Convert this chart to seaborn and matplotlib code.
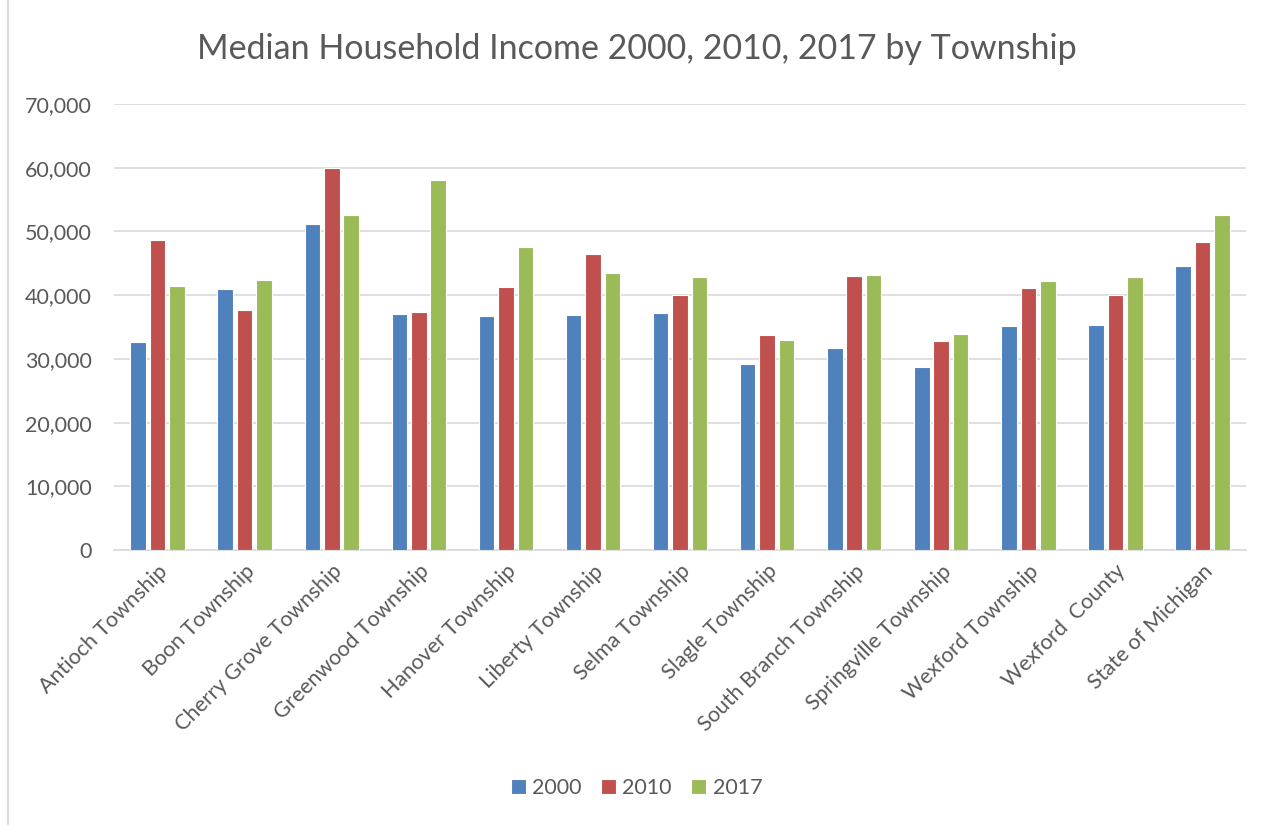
import matplotlib
matplotlib.use("Agg")
import matplotlib.pyplot as plt
import matplotlib.ticker as ticker
import seaborn as sns
import pandas as pd

townships = ["Antioch Township", "Boon Township", "Cherry Grove Township",
             "Greenwood Township", "Hanover Township", "Liberty Township",
             "Selma Township", "Slagle Township", "South Branch Township",
             "Springville Township", "Wexford Township", "Wexford  County",
             "State of Michigan"]
years = ["2000", "2010", "2017"]
income_2000 = [32600, 41000, 51200, 37000, 36800, 36900, 37200,
               29200, 31700, 28700, 35100, 35300, 44600]
income_2010 = [48700, 37700, 60000, 37300, 41300, 46400, 40000,
               33700, 43000, 32800, 41100, 40000, 48400]
income_2017 = [41400, 42400, 52600, 58100, 47500, 43500, 42800,
               32900, 43100, 33900, 42300, 42800, 52600]
colors = ["#4F81BD", "#C0504D", "#9BBB59"]

# long table for seaborn
rows = []
for yr, vals in zip(years, [income_2000, income_2010, income_2017]):
    for t, v in zip(townships, vals):
        rows.append({"township": t, "year": yr, "income": v})
df = pd.DataFrame(rows)

sns.set_style("white")
plt.rcParams["font.family"] = ["Lato", "DejaVu Sans"]
txt = "#595959"

fig = plt.figure(figsize=(12.73, 8.25), dpi=100)
ax = fig.add_axes([0.0896, 0.3333, 0.8892, 0.5406])

sns.barplot(data=df, x="township", y="income", hue="year", order=townships,
            hue_order=years, palette=colors, saturation=1, width=0.67, gap=0.2,
            edgecolor="white", linewidth=0.8, ax=ax, zorder=3)

ax.set_ylim(0, 70000)
ax.set_xlim(-0.5, len(townships) - 0.5)
ax.yaxis.set_major_locator(ticker.MultipleLocator(10000))
ax.yaxis.set_major_formatter(ticker.FuncFormatter(lambda v, p: f"{int(v):,}"))
ax.grid(axis="y", color="#D9D9D9", linewidth=1.2, zorder=0)
ax.set_axisbelow(True)
for s in ["top", "right", "left"]:
    ax.spines[s].set_visible(False)
ax.spines["bottom"].set_color("#D9D9D9")
ax.spines["bottom"].set_linewidth(1.2)
ax.tick_params(axis="both", length=0, colors=txt, labelsize=15.5)
ax.tick_params(axis="y", pad=16)
ax.tick_params(axis="x", pad=8)
ax.set_xlabel("")
ax.set_ylabel("")
plt.setp(ax.get_xticklabels(), rotation=45, ha="right", rotation_mode="anchor")

ax.legend(loc="center", bbox_to_anchor=(0.5, 0.045), bbox_transform=fig.transFigure,
          ncol=3, frameon=False, fontsize=15.5, handlelength=0.7, handleheight=0.7,
          handletextpad=0.3, columnspacing=0.9, labelcolor=txt)

fig.suptitle("Median Household Income 2000, 2010, 2017 by Township",
             y=0.96, fontsize=24.5, color=txt)

# thin frame line on the left edge like the source
fig.add_artist(plt.Line2D([0.0065, 0.0065], [0, 1], color="#D9D9D9",
                          linewidth=1.5, transform=fig.transFigure))

fig.savefig("out.png", dpi=100)
